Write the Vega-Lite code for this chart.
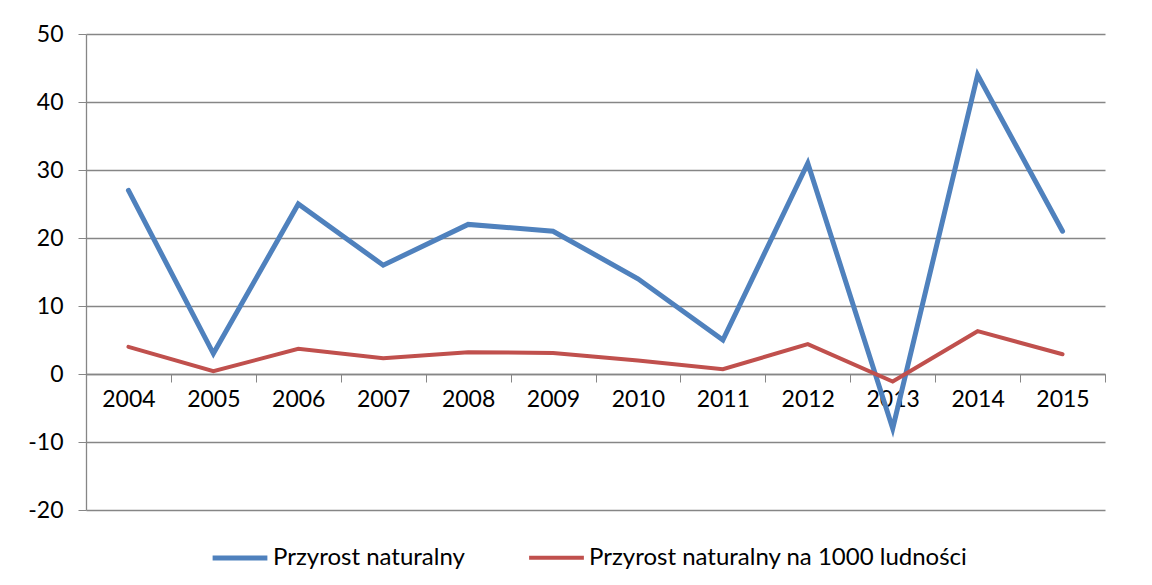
{
  "$schema": "https://vega.github.io/schema/vega-lite/v6.json",
  "width": 1019,
  "height": 476,
  "autosize": {"type": "none"},
  "padding": {"left": 86, "top": 34, "right": 47, "bottom": 75},
  "background": "white",
  "config": {
    "view": {"stroke": null},
    "font": "Lato",
    "axis": {"labelFont": "Lato", "labelColor": "#000000", "labelFontSize": 23}
  },
  "data": {
    "values": [
      {"year": "2004", "series": "Przyrost naturalny", "value": 27},
      {"year": "2005", "series": "Przyrost naturalny", "value": 3},
      {"year": "2006", "series": "Przyrost naturalny", "value": 25},
      {"year": "2007", "series": "Przyrost naturalny", "value": 16},
      {"year": "2008", "series": "Przyrost naturalny", "value": 22},
      {"year": "2009", "series": "Przyrost naturalny", "value": 21},
      {"year": "2010", "series": "Przyrost naturalny", "value": 14},
      {"year": "2011", "series": "Przyrost naturalny", "value": 5},
      {"year": "2012", "series": "Przyrost naturalny", "value": 31},
      {"year": "2013", "series": "Przyrost naturalny", "value": -8},
      {"year": "2014", "series": "Przyrost naturalny", "value": 44},
      {"year": "2015", "series": "Przyrost naturalny", "value": 21},
      {"year": "2004", "series": "Przyrost naturalny na 1000 ludności", "value": 4.0},
      {"year": "2005", "series": "Przyrost naturalny na 1000 ludności", "value": 0.4},
      {"year": "2006", "series": "Przyrost naturalny na 1000 ludności", "value": 3.7},
      {"year": "2007", "series": "Przyrost naturalny na 1000 ludności", "value": 2.3},
      {"year": "2008", "series": "Przyrost naturalny na 1000 ludności", "value": 3.2},
      {"year": "2009", "series": "Przyrost naturalny na 1000 ludności", "value": 3.1},
      {"year": "2010", "series": "Przyrost naturalny na 1000 ludności", "value": 2.0},
      {"year": "2011", "series": "Przyrost naturalny na 1000 ludności", "value": 0.7},
      {"year": "2012", "series": "Przyrost naturalny na 1000 ludności", "value": 4.4},
      {"year": "2013", "series": "Przyrost naturalny na 1000 ludności", "value": -1.1},
      {"year": "2014", "series": "Przyrost naturalny na 1000 ludności", "value": 6.3},
      {"year": "2015", "series": "Przyrost naturalny na 1000 ludności", "value": 2.9}
    ]
  },
  "mark": {"type": "line", "strokeCap": "round", "strokeJoin": "miter"},
  "encoding": {
    "x": {
      "field": "year",
      "type": "ordinal",
      "scale": {"type": "band", "paddingInner": 0, "paddingOuter": 0},
      "axis": {
        "title": null,
        "orient": "bottom",
        "offset": -136,
        "labelAngle": 0,
        "tickBand": "extent",
        "tickSize": 8,
        "tickColor": "#868686",
        "domainColor": "#868686",
        "domainWidth": 1.3,
        "labelPadding": 6,
        "grid": false
      }
    },
    "y": {
      "field": "value",
      "type": "quantitative",
      "scale": {"domain": [-20, 50], "nice": false, "zero": false},
      "axis": {
        "title": null,
        "values": [-20, -10, 0, 10, 20, 30, 40, 50],
        "labelExpr": "'' + datum.value",
        "grid": true,
        "gridColor": "#868686",
        "gridWidth": 1.3,
        "gridOpacity": 1,
        "tickSize": 8,
        "tickColor": "#868686",
        "domainColor": "#868686",
        "domainWidth": 1.3,
        "labelPadding": 15
      }
    },
    "strokeWidth": {
      "field": "series",
      "type": "nominal",
      "scale": {
        "domain": ["Przyrost naturalny", "Przyrost naturalny na 1000 ludności"],
        "range": [5, 4]
      },
      "legend": null
    },
    "color": {
      "field": "series",
      "type": "nominal",
      "scale": {
        "domain": ["Przyrost naturalny", "Przyrost naturalny na 1000 ludności"],
        "range": ["#4F81BD", "#C0504D"]
      },
      "legend": {
        "title": null,
        "orient": "none",
        "legendX": 124,
        "legendY": 494,
        "direction": "horizontal",
        "symbolType": "stroke",
        "symbolStrokeWidth": 5,
        "symbolSize": 3000,
        "labelFontSize": 24,
        "labelFont": "Lato",
        "labelColor": "#000000",
        "labelOffset": 3,
        "columnPadding": 56,
        "labelLimit": 500
      }
    }
  }
}
